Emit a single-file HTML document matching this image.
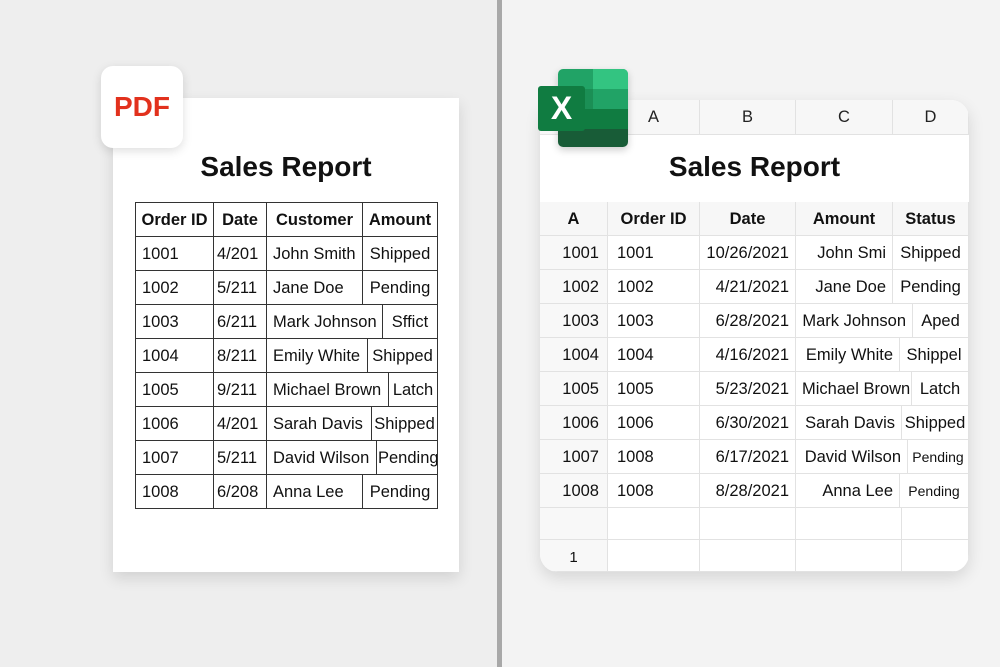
<!DOCTYPE html>
<html><head><meta charset="utf-8">
<style>
*{margin:0;padding:0;box-sizing:border-box}
body{width:1000px;height:667px;overflow:hidden;position:relative;font-family:"Liberation Sans",sans-serif;background:#efefef}
.abs{position:absolute}
.c{position:absolute;font-size:16.5px;color:#111;line-height:34px;white-space:nowrap;overflow:hidden}
.pc{border:1.3px solid #333}
.xc{border-right:1px solid #e2e2e2;border-bottom:1px solid #e2e2e2}
</style></head><body>
<div class="abs" style="left:0;top:0;width:498px;height:667px;background:#eeeeee"></div>
<div class="abs" style="left:502px;top:0;width:498px;height:667px;background:#f3f3f3"></div>
<div class="abs" style="left:497px;top:0;width:5px;height:667px;background:#a8a8a8"></div>

<div class="abs" style="left:113px;top:98px;width:346px;height:474px;background:#fff;box-shadow:0 6px 14px rgba(0,0,0,0.12)"></div>
<div class="abs" style="left:101px;top:66px;width:82px;height:82px;background:#fff;border-radius:12px;box-shadow:0 3px 10px rgba(0,0,0,0.13);color:#e2311d;font-weight:bold;font-size:28px;line-height:82px;text-align:center">PDF</div>
<div class="abs" style="left:113px;top:151px;width:346px;text-align:center;font-weight:bold;font-size:28px;color:#111">Sales Report</div>
<div id="pdfTable"></div>

<div class="abs" style="left:540px;top:100px;width:429px;height:472px;background:#fff;border-radius:18px;box-shadow:0 6px 16px rgba(0,0,0,0.12);overflow:hidden">
 <div class="abs" style="left:0;top:0;width:429px;height:35px;background:#f7f7f7;border-bottom:1px solid #e6e6e6"></div>
 <div class="abs" style="left:0;top:102px;width:68px;height:370px;background:#f8f8f8"></div>
 <div class="abs" style="left:0;top:51px;width:429px;text-align:center;font-weight:bold;font-size:28px;color:#111">Sales Report</div>
 <div id="xl"></div>
</div>
<div class="abs" style="left:538px;top:69px;width:92px;height:80px">
 <div class="abs" style="left:20px;top:0;width:70px;height:78px;border-radius:5px;overflow:hidden;box-shadow:0 3px 8px rgba(0,0,0,0.2)">
  <div class="abs" style="left:0;top:0;width:70px;height:20px;background:#21a366"></div>
  <div class="abs" style="left:35px;top:0;width:35px;height:20px;background:#33c481"></div>
  <div class="abs" style="left:0;top:20px;width:70px;height:20px;background:#1b8f55"></div>
  <div class="abs" style="left:35px;top:20px;width:35px;height:20px;background:#21a366"></div>
  <div class="abs" style="left:0;top:40px;width:70px;height:20px;background:#107c41"></div>
  <div class="abs" style="left:0;top:60px;width:70px;height:18px;background:#185c37"></div>
 </div>
 <div class="abs" style="left:0;top:17px;width:47px;height:45px;background:#107c41;border-radius:3px;color:#fff;font-weight:bold;font-size:32px;line-height:45px;text-align:center">X</div>
</div>

<script>
const pdfIds=["1001","1002","1003","1004","1005","1006","1007","1008"];
const pdfDates=["4/201","5/211","6/211","8/211","9/211","4/201","5/211","6/208"];
const customers=["John Smith","Jane Doe","Mark Johnson","Emily White","Michael Brown","Sarah Davis","David Wilson","Anna Lee"];
const pdfStatus=["Shipped","Pending","Sffict","Shipped","Latch","Shipped","Pending","Pending"];
const pdfSplit=[362,362,382,367,388,371,376,362];
const xlRowNums=["1001","1002","1003","1004","1005","1006","1007","1008"];
const xlIds=["1001","1002","1003","1004","1005","1006","1008","1008"];
const xlDates=["10/26/2021","4/21/2021","6/28/2021","4/16/2021","5/23/2021","6/30/2021","6/17/2021","8/28/2021"];
const xlNames=["John Smi","Jane Doe","Mark Johnson","Emily White","Michael Brown","Sarah Davis","David Wilson","Anna Lee"];
const xlStatus=["Shipped","Pending","Aped","Shippel","Latch","Shipped","Pending","Pending"];
const xlSplit=[893,893,913,900,912,902,908,900];
const xlSmall=[false,false,false,false,false,false,true,true];

function cell(parent,cls,x,y,w,h,txt,align,pad,bold,fs){
  const d=document.createElement('div');
  d.className='c '+cls;
  d.style.left=x+'px';d.style.top=y+'px';d.style.width=w+'px';d.style.height=h+'px';
  d.style.textAlign=align;d.style.padding='0 '+pad+'px';
  if(bold)d.style.fontWeight='bold';
  if(fs)d.style.fontSize=fs+'px';
  d.textContent=txt;
  parent.appendChild(d);
  return d;
}
const pt=document.getElementById('pdfTable');
const RH=34;
let hx=[135,213,266,362,437];
const ph=["Order ID","Date","Customer","Amount"];
ph.forEach((t,i)=>{
  const d=cell(pt,'pc',hx[i],202,hx[i+1]-hx[i]+1,RH+1,t,'center',0,true);
  
  
});
for(let r=0;r<pdfIds.length;r++){
  const y=236+r*RH;
  const xs=[135,213,266,pdfSplit[r],437];
  const vals=[pdfIds[r],pdfDates[r],customers[r],pdfStatus[r]];
  vals.forEach((t,i)=>{
    const d=cell(pt,'pc',xs[i],y,xs[i+1]-xs[i]+1,RH+1,t,i==3?'center':'left',i==3?1:i==1?3:6,false);
    
    
  });
}
const xl=document.getElementById('xl');
const O=540;
const cols=["A","B","C","D"];
const cx=[608,700,796,893,969];
cols.forEach((t,i)=>{
  const d=cell(xl,'xc',cx[i]-O,0,cx[i+1]-cx[i],35,t,'center',0,false);
  d.style.lineHeight='35px';d.style.color='#222';
  
  
});
const xh=["A","Order ID","Date","Amount","Status"];
const hx2=[540,608,700,796,893,969];
xh.forEach((t,i)=>{
  const d=cell(xl,'xc',hx2[i]-O,102,hx2[i+1]-hx2[i],RH,t,'center',0,true);
  d.style.background='#f7f7f7';
  
  
});
for(let r=0;r<xlIds.length;r++){
  const y=136+r*RH;
  const xs=[540,608,700,796,xlSplit[r],969];
  const vals=[xlRowNums[r],xlIds[r],xlDates[r],xlNames[r],xlStatus[r]];
  const al=['right','left','right','right','center'];
  vals.forEach((t,i)=>{
    const d=cell(xl,'xc',xs[i]-O,y,xs[i+1]-xs[i],RH,t,al[i],i==4?0:i==0?8:i==1?9:6,false,(i==4&&xlSmall[r])?14:0);
    
    
  });
}
const ex=[540,608,700,796,902,969];
[408,440].forEach((y,k)=>{
  for(let i=0;i<5;i++){
    const d=cell(xl,'xc',ex[i]-O,y,ex[i+1]-ex[i],32,(k==1&&i==0)?"1":"",'center',0,false,15);
    d.style.lineHeight='36px';
    
    
  }
});
</script>
</body></html>
